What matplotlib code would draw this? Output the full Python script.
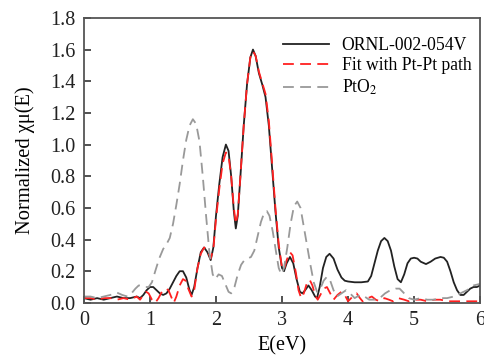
import numpy as np
import matplotlib
matplotlib.use("Agg")
import matplotlib.pyplot as plt

# ORNL-002-054V (measured)
e_sample = [0.00, 0.10, 0.20, 0.30, 0.40, 0.50, 0.60, 0.70, 0.80, 0.85, 0.90, 0.95,
            1.00, 1.05, 1.10, 1.15, 1.20, 1.25, 1.30, 1.35, 1.40, 1.45, 1.50, 1.55,
            1.60, 1.63, 1.67, 1.72, 1.77, 1.82, 1.87, 1.92, 1.96, 2.00, 2.05, 2.10,
            2.15, 2.19, 2.23, 2.27, 2.30, 2.33, 2.37, 2.42, 2.47, 2.52, 2.56, 2.60,
            2.65, 2.70, 2.75, 2.80, 2.85, 2.90, 2.95, 3.00, 3.03, 3.07, 3.12, 3.17,
            3.22, 3.27, 3.31, 3.35, 3.40, 3.45, 3.50, 3.53, 3.57, 3.62, 3.67, 3.72,
            3.78, 3.84, 3.90, 3.95, 4.00, 4.10, 4.20, 4.30, 4.35, 4.40, 4.45, 4.50,
            4.55, 4.60, 4.65, 4.70, 4.75, 4.80, 4.85, 4.90, 4.95, 5.00, 5.05, 5.10,
            5.18, 5.25, 5.32, 5.40, 5.45, 5.50, 5.55, 5.60, 5.65, 5.70, 5.75, 5.80,
            5.85, 5.90, 5.95, 6.00]
mu_sample = [0.03, 0.02, 0.03, 0.02, 0.03, 0.04, 0.03, 0.03, 0.04, 0.03, 0.05, 0.08,
             0.10, 0.10, 0.08, 0.06, 0.05, 0.06, 0.09, 0.13, 0.17, 0.20, 0.20, 0.16,
             0.08, 0.05, 0.10, 0.22, 0.32, 0.35, 0.32, 0.27, 0.35, 0.55, 0.75, 0.92,
             1.00, 0.96, 0.80, 0.58, 0.47, 0.55, 0.80, 1.12, 1.38, 1.55, 1.60, 1.56,
             1.45, 1.38, 1.30, 1.12, 0.85, 0.58, 0.35, 0.22, 0.20, 0.25, 0.29, 0.25,
             0.15, 0.07, 0.06, 0.08, 0.11, 0.08, 0.04, 0.03, 0.10, 0.22, 0.29, 0.31,
             0.28, 0.21, 0.16, 0.14, 0.135, 0.13, 0.13, 0.135, 0.17, 0.25, 0.33, 0.39,
             0.41, 0.39, 0.33, 0.23, 0.15, 0.13, 0.18, 0.25, 0.28, 0.285, 0.28, 0.26,
             0.245, 0.26, 0.28, 0.29, 0.285, 0.26, 0.20, 0.13, 0.08, 0.05, 0.05, 0.07,
             0.09, 0.10, 0.10, 0.11]

# Fit with Pt-Pt path
e_fit = [0.00, 0.10, 0.20, 0.30, 0.40, 0.50, 0.60, 0.70, 0.75, 0.80, 0.85, 0.90,
         0.94, 0.98, 1.03, 1.08, 1.13, 1.18, 1.24, 1.28, 1.32, 1.36, 1.40, 1.45,
         1.50, 1.54, 1.58, 1.63, 1.67, 1.72, 1.77, 1.82, 1.87, 1.92, 1.96, 2.00,
         2.05, 2.10, 2.15, 2.19, 2.23, 2.27, 2.30, 2.33, 2.37, 2.42, 2.47, 2.52,
         2.56, 2.60, 2.65, 2.70, 2.75, 2.80, 2.85, 2.90, 2.95, 3.00, 3.03, 3.07,
         3.12, 3.16, 3.21, 3.25, 3.29, 3.33, 3.38, 3.42, 3.46, 3.50, 3.54, 3.58,
         3.63, 3.68, 3.73, 3.78, 3.84, 3.90, 3.95, 4.00, 4.07, 4.13, 4.18, 4.22,
         4.30, 4.36, 4.42, 4.48, 4.55, 4.62, 4.68, 4.76, 4.85, 4.92, 5.00, 5.10,
         5.20, 5.30, 5.40, 5.50, 5.60, 5.70, 5.80, 5.90, 6.00]
mu_fit = [0.03, 0.03, 0.02, 0.03, 0.03, 0.02, 0.03, 0.02, 0.03, 0.04, 0.02, 0.05,
          0.07, 0.06, 0.02, 0.00, 0.03, 0.07, 0.09, 0.08, 0.04, 0.00, 0.04, 0.11,
          0.15, 0.14, 0.09, 0.04, 0.08, 0.22, 0.31, 0.35, 0.33, 0.28, 0.34, 0.53,
          0.72, 0.88, 0.95, 0.93, 0.80, 0.60, 0.50, 0.56, 0.80, 1.12, 1.38, 1.55,
          1.59, 1.56, 1.46, 1.39, 1.32, 1.15, 0.88, 0.60, 0.37, 0.22, 0.21, 0.27,
          0.32, 0.30, 0.19, 0.08, 0.03, 0.06, 0.13, 0.145, 0.11, 0.05, 0.02, 0.05,
          0.09, 0.10, 0.06, 0.02, 0.05, 0.07, 0.05, 0.01, 0.04, 0.06, 0.03, 0.01,
          0.03, 0.04, 0.02, 0.01, 0.03, 0.02, 0.01, 0.03, 0.02, 0.01, 0.02, 0.02,
          0.01, 0.02, 0.02, 0.01, 0.01, 0.01, 0.01, 0.01, 0.01]

# PtO2 reference
e_pto2 = [0.00, 0.10, 0.20, 0.30, 0.40, 0.50, 0.58, 0.66, 0.72, 0.78, 0.83, 0.88,
          0.93, 0.98, 1.03, 1.08, 1.14, 1.20, 1.25, 1.30, 1.35, 1.40, 1.45, 1.50,
          1.55, 1.60, 1.65, 1.70, 1.75, 1.80, 1.85, 1.90, 1.95, 1.99, 2.04, 2.09,
          2.14, 2.19, 2.23, 2.28, 2.33, 2.38, 2.43, 2.48, 2.53, 2.58, 2.63, 2.68,
          2.73, 2.77, 2.81, 2.86, 2.91, 2.95, 2.99, 3.03, 3.08, 3.13, 3.18, 3.23,
          3.28, 3.33, 3.38, 3.43, 3.48, 3.53, 3.58, 3.63, 3.68, 3.73, 3.78, 3.83,
          3.90, 3.97, 4.03, 4.10, 4.18, 4.25, 4.32, 4.40, 4.48, 4.56, 4.64, 4.72,
          4.78, 4.85, 4.92, 5.00, 5.10, 5.20, 5.30, 5.40, 5.50, 5.60, 5.70, 5.80,
          5.90, 6.00]
mu_pto2 = [0.04, 0.04, 0.03, 0.04, 0.05, 0.065, 0.05, 0.04, 0.06, 0.09, 0.11, 0.11,
           0.10, 0.10, 0.13, 0.20, 0.28, 0.34, 0.37, 0.41, 0.50, 0.62, 0.75, 0.90,
           1.03, 1.12, 1.16, 1.13, 1.02, 0.80, 0.55, 0.32, 0.18, 0.15, 0.18, 0.17,
           0.12, 0.07, 0.06, 0.10, 0.18, 0.24, 0.27, 0.28, 0.29, 0.33, 0.42, 0.51,
           0.57, 0.58, 0.55, 0.45, 0.32, 0.22, 0.18, 0.22, 0.35, 0.50, 0.61, 0.64,
           0.60, 0.48, 0.36, 0.24, 0.13, 0.07, 0.09, 0.14, 0.165, 0.14, 0.08, 0.04,
           0.06, 0.08, 0.06, 0.03, 0.05, 0.04, 0.02, 0.02, 0.03, 0.06, 0.08, 0.09,
           0.09, 0.06, 0.03, 0.02, 0.03, 0.02, 0.02, 0.03, 0.03, 0.04, 0.06, 0.08,
           0.11, 0.12]

plt.rcParams["font.family"] = ["Liberation Serif", "DejaVu Serif"]
plt.rcParams["mathtext.fontset"] = "stix"

fig = plt.figure(figsize=(4.85, 3.58), dpi=100)
ax = fig.add_axes([0.173, 0.154, 0.817, 0.796])

ax.plot(e_sample, mu_sample, color="#222222", lw=1.3, label="ORNL-002-054V")
ax.plot(e_fit, mu_fit, color="#ff2020", lw=1.3, dashes=(6, 3.5), label="Fit with Pt-Pt path")
ax.plot(e_pto2, mu_pto2, color="#999999", lw=1.3, dashes=(6, 3.5), label="PtO$_2$")

ax.set_xlim(0, 6)
ax.set_ylim(0, 1.8)
ax.set_xticks(np.arange(0, 7, 1))
ax.set_yticks(np.arange(0, 1.81, 0.2))
ax.set_yticklabels([f"{v:.1f}" for v in np.arange(0, 1.81, 0.2)])
ax.tick_params(direction="in", length=5, width=1.2, labelsize=14.5, colors="#333333",
               labelcolor="#222222", pad=6)
for s in ax.spines.values():
    s.set_color("#555555")
    s.set_linewidth(1.3)

ax.set_xlabel("E(eV)", fontsize=14.5, labelpad=4)
ax.set_ylabel("Normalized χμ(E)", fontsize=14.8, labelpad=11)

ax.legend(loc="upper right", frameon=False, fontsize=12.7, handlelength=2.6,
          handletextpad=0.7, labelspacing=0.2, borderaxespad=0.1,
          bbox_to_anchor=(1.0, 0.965))

fig.savefig("out.png", dpi=100)
